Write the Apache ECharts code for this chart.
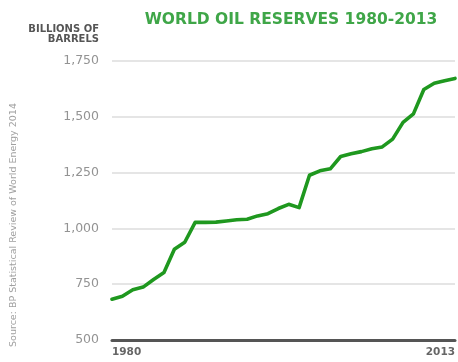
<!DOCTYPE html>
<html>
<head>
<meta charset="utf-8">
<script src="https://cdn.jsdelivr.net/npm/echarts@6/dist/echarts.min.js"></script>
<style>
html,body{margin:0;padding:0;background:#fff;}
#chart{width:458px;height:362px;}
</style>
</head>
<body>
<div id="chart"></div>
<script>
var years = ['1980','1981','1982','1983','1984','1985','1986','1987','1988','1989','1990','1991','1992','1993','1994','1995','1996','1997','1998','1999','2000','2001','2002','2003','2004','2005','2006','2007','2008','2009','2010','2011','2012','2013'];
var reserves = [683,696,725,737,771,802,907,938,1027,1027,1028,1033,1039,1041,1056,1066,1089,1108,1093,1238,1258,1267,1322,1334,1344,1357,1365,1400,1475,1513,1622,1650,1662,1672];
var yTicks = [500, 750, 1000, 1250, 1500, 1750];
var titleText = 'WORLD OIL RESERVES 1980-2013';
var unitText = 'BILLIONS OF\nBARRELS';
var sourceText = 'Source: BP Statistical Review of World Energy 2014';

var chart = echarts.init(document.getElementById('chart'), null, {renderer: 'canvas'});
chart.setOption({
  backgroundColor: '#ffffff',
  animation: false,
  title: {
    text: titleText,
    left: 286,
    top: 7,
    textAlign: 'center',
    textStyle: {fontFamily: 'DejaVu Sans', fontWeight: 'bold', fontSize: 15.5, color: '#3fa648'}
  },
  grid: {left: 112, right: 2, top: 61, bottom: 22, containLabel: false},
  xAxis: {
    type: 'category',
    data: years,
    boundaryGap: false,
    axisLine: {show: true, lineStyle: {color: '#555555', width: 3}},
    axisTick: {show: false},
    splitLine: {show: false},
    axisLabel: {
      interval: function (i) { return i === 0 || i === years.length - 1; },
      alignMinLabel: 'left',
      alignMaxLabel: 'right',
      margin: 7,
      fontFamily: 'DejaVu Sans',
      fontWeight: 'bold',
      fontSize: 10.5,
      color: '#666666'
    }
  },
  yAxis: {
    type: 'value',
    min: yTicks[0],
    max: yTicks[yTicks.length - 1],
    interval: 250,
    axisLine: {show: false},
    axisTick: {show: false},
    splitLine: {show: true, lineStyle: {color: '#dddddd', width: 1.5}},
    axisLabel: {
      margin: 13,
      fontFamily: 'DejaVu Sans',
      fontSize: 12.5,
      color: '#939393',
      formatter: function (v) { return v.toLocaleString('en-US'); }
    }
  },
  graphic: [
    {
      type: 'text',
      right: 458 - 99,
      top: 24,
      style: {
        text: unitText,
        textAlign: 'right',
        fontFamily: 'DejaVu Sans',
        fontWeight: 'bold',
        fontSize: 10,
        lineHeight: 10,
        fill: '#555555'
      }
    },
    {
      type: 'text',
      x: 14,
      y: 225,
      rotation: Math.PI / 2,
      style: {
        text: sourceText,
        textAlign: 'center',
        textVerticalAlign: 'middle',
        fontFamily: 'DejaVu Sans',
        fontSize: 9.5,
        fill: '#a0a0a0'
      }
    }
  ],
  series: [{
    type: 'line',
    data: reserves,
    showSymbol: false,
    symbol: 'none',
    lineStyle: {color: '#1f981f', width: 3.6, join: 'round', cap: 'round'},
    z: 5
  }]
});
</script>
</body>
</html>
